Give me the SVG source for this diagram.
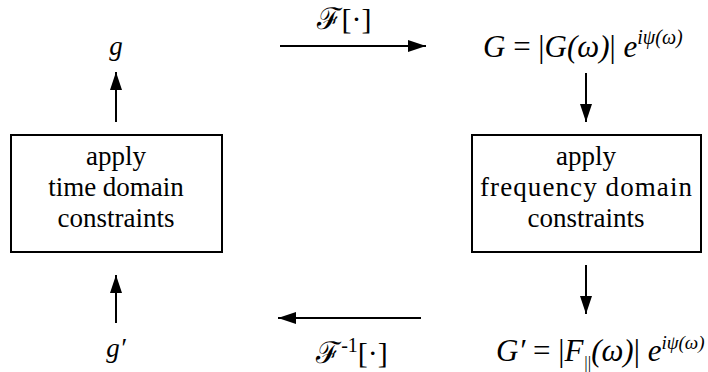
<svg xmlns="http://www.w3.org/2000/svg" width="708" height="372" viewBox="0 0 708 372">
<style>
.lbl{font-family:'Liberation Serif',serif;font-size:27px;text-anchor:middle;fill:#000}
.math{font-family:'Liberation Serif',serif;font-size:31px;fill:#000}
.op{font-family:'Liberation Serif',serif;font-size:30px;fill:#000;text-anchor:middle}
.it{font-style:italic}
.sup{font-size:20px}
.box{fill:#fff;stroke:#000;stroke-width:2}
.ln{stroke:#000;stroke-width:2;fill:none}
</style>
<defs>
<marker id="ah" markerWidth="18" markerHeight="12" refX="18" refY="6" orient="auto" markerUnits="userSpaceOnUse">
<path d="M0,0 L18,6 L0,12 Z" fill="#000"/>
</marker>
</defs>
<g id="n-time">
<rect class="box" x="11" y="135" width="211" height="117"/>
<text class="lbl" x="116" y="165">apply</text>
<text class="lbl" x="116" y="196">time domain</text>
<text class="lbl" x="116" y="227">constraints</text>
</g>
<g id="n-freq">
<rect class="box" x="472" y="135" width="229" height="117"/>
<text class="lbl" x="586" y="165">apply</text>
<text class="lbl" x="586" y="196" textLength="212" lengthAdjust="spacing">frequency domain</text>
<text class="lbl" x="586" y="227">constraints</text>
</g>
<g id="n-g">
<text class="lbl it" font-size="29" x="116" y="55">g</text>
</g>
<g id="n-gp">
<text class="lbl it" font-size="29" x="116" y="357">g′</text>
</g>
<g id="n-G">
<text class="math" x="483" y="57"><tspan class="it">G</tspan> = |<tspan class="it">G(ω)</tspan>| <tspan class="it">e</tspan><tspan class="it sup" dy="-13">iψ(ω)</tspan></text>
</g>
<g id="n-Gp">
<text class="math" font-size="30" x="496" y="361"><tspan class="it">G′</tspan> = |<tspan class="it">F</tspan><tspan font-size="17" dx="1" dy="7">||</tspan><tspan class="it" dy="-7">(ω)</tspan>| <tspan class="it">e</tspan><tspan class="it" font-size="19" dy="-12">iψ(ω)</tspan></text>
</g>
<g id="connectors">
<line class="ln" x1="280" y1="46" x2="426" y2="46" marker-end="url(#ah)"/>
<line class="ln" x1="421" y1="318" x2="278" y2="318" marker-end="url(#ah)"/>
<line class="ln" x1="586" y1="73" x2="586" y2="122" marker-end="url(#ah)"/>
<line class="ln" x1="586" y1="265" x2="586" y2="314" marker-end="url(#ah)"/>
<line class="ln" x1="116" y1="122" x2="116" y2="72" marker-end="url(#ah)"/>
<line class="ln" x1="116" y1="323" x2="116" y2="275" marker-end="url(#ah)"/>
<text class="op" x="344" y="29">ℱ[·]</text>
<text class="op" x="352" y="363">ℱ<tspan font-size="20" dy="-11">-1</tspan><tspan dy="11">[·]</tspan></text>
</g>
</svg>
